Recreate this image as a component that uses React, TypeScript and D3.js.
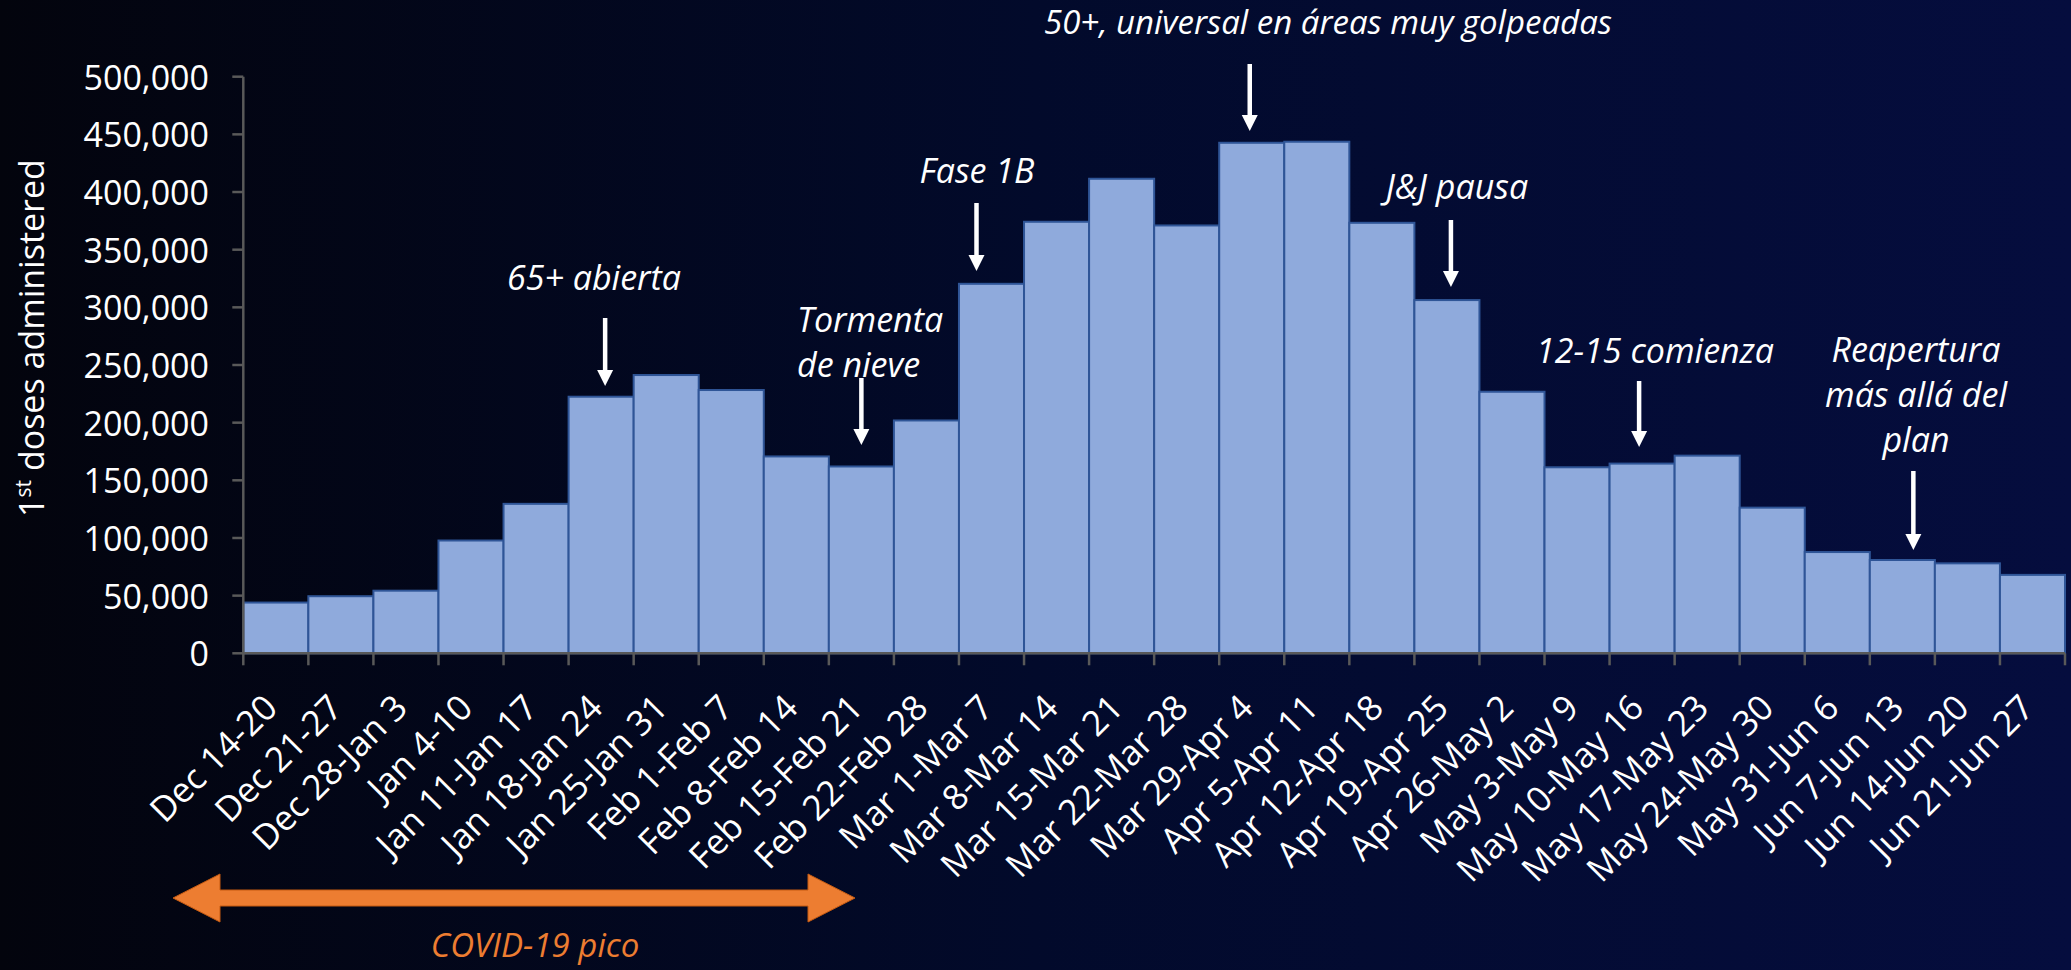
import React from "react";
import * as d3 from "d3";

const weeks: string[] = [
  "Dec 14-20", "Dec 21-27", "Dec 28-Jan 3", "Jan 4-10", "Jan 11-Jan 17", "Jan 18-Jan 24",
  "Jan 25-Jan 31", "Feb 1-Feb 7", "Feb 8-Feb 14", "Feb 15-Feb 21", "Feb 22-Feb 28", "Mar 1-Mar 7",
  "Mar 8-Mar 14", "Mar 15-Mar 21", "Mar 22-Mar 28", "Mar 29-Apr 4", "Apr 5-Apr 11", "Apr 12-Apr 18",
  "Apr 19-Apr 25", "Apr 26-May 2", "May 3-May 9", "May 10-May 16", "May 17-May 23", "May 24-May 30",
  "May 31-Jun 6", "Jun 7-Jun 13", "Jun 14-Jun 20", "Jun 21-Jun 27",
];

const firstDoses: number[] = [
  44000, 49500, 54300, 97800, 129600, 222500,
  241300, 228300, 170700, 162000, 201900, 320400,
  374200, 411500, 371000, 442700, 443600, 373300,
  306300, 226800, 161300, 164500, 171400, 126300,
  87800, 80900, 78000, 68000,
];

const yTicks: number[] = [0, 50000, 100000, 150000, 200000, 250000, 300000, 350000, 400000, 450000, 500000];

const annotationTexts: string[][] = [
  ["65+ abierta"],
  ["Tormenta", "de nieve"],
  ["Fase 1B"],
  ["50+, universal en áreas muy golpeadas"],
  ["J&J pausa"],
  ["12-15 comienza"],
  ["Reapertura", "más allá del", "plan"],
];
const annotationWeeks: string[] = [
  "Jan 18-Jan 24", "Feb 15-Feb 21", "Mar 1-Mar 7", "Mar 29-Apr 4", "Apr 19-Apr 25", "May 10-May 16", "Jun 7-Jun 13",
];

const peakLabel = "COVID-19 pico";
const yTitle = ["1", "st", " doses administered"];

// layout (not data)
const W = 2071;
const H = 970;
const plotLeft = 243.3;
const plotRight = 2065;
const plotTop = 76.7;
const plotBottom = 653.3;

const annLayout = [
  { dx: 4, y1: 318, y2: 386, tx: 594, ty: 290, anchor: "middle" },
  { dx: 0, y1: 378, y2: 445, tx: 797, ty: 332, anchor: "start" },
  { dx: -15, y1: 203, y2: 271, tx: 977, ty: 183, anchor: "middle" },
  { dx: -2, y1: 64, y2: 131, tx: 1328, ty: 34, anchor: "middle" },
  { dx: 4, y1: 220, y2: 287, tx: 1457, ty: 199, anchor: "middle" },
  { dx: -3, y1: 381, y2: 447, tx: 1655, ty: 363, anchor: "middle" },
  { dx: 11, y1: 471, y2: 550, tx: 1916, ty: 362, anchor: "middle" },
];

const FONT = "'Open Sans', 'Noto Sans', sans-serif";

export default function App() {
  const x = d3.scaleBand<string>().domain(weeks).range([plotLeft, plotRight]).padding(0);
  const y = d3.scaleLinear().domain([0, 500000]).range([plotBottom, plotTop]);
  const fmt = d3.format(",");
  const axisColor = "#595959";

  const arrowX1 = 173;
  const arrowX2 = 855;
  const arrowY = 898;
  const shaftH = 8;
  const headL = 47;
  const headH = 24;
  const orangePath = [
    [arrowX1, arrowY],
    [arrowX1 + headL, arrowY - headH],
    [arrowX1 + headL, arrowY - shaftH],
    [arrowX2 - headL, arrowY - shaftH],
    [arrowX2 - headL, arrowY - headH],
    [arrowX2, arrowY],
    [arrowX2 - headL, arrowY + headH],
    [arrowX2 - headL, arrowY + shaftH],
    [arrowX1 + headL, arrowY + shaftH],
    [arrowX1 + headL, arrowY + headH],
  ];
  const orangeD = d3.line()(orangePath as [number, number][]) + "Z";

  return (
    <svg
      width={W}
      height={H}
      style={{ position: "fixed", left: 0, top: 0, display: "block" }}
      fontFamily={FONT}
    >
      <defs>
        <linearGradient id="bg" x1="0" y1="0" x2="1" y2="0">
          <stop offset="0" stopColor="#03040d" />
          <stop offset="0.5" stopColor="#020a2b" />
          <stop offset="1" stopColor="#050d3e" />
        </linearGradient>
      </defs>
      <rect x={0} y={0} width={W} height={H} fill="url(#bg)" />

      {/* bars */}
      {weeks.map((w, i) => (
        <rect
          key={w}
          x={x(w)!}
          y={y(firstDoses[i])}
          width={x.bandwidth()}
          height={y(0) - y(firstDoses[i])}
          fill="#8faadc"
          stroke="#2f5597"
          strokeWidth={2}
        />
      ))}

      {/* y axis */}
      <line x1={plotLeft} x2={plotLeft} y1={plotTop} y2={plotBottom} stroke={axisColor} strokeWidth={2.5} />
      {yTicks.map((t) => (
        <g key={t}>
          <line x1={plotLeft - 11} x2={plotLeft} y1={y(t)} y2={y(t)} stroke={axisColor} strokeWidth={2.5} />
          <text
            x={209}
            y={y(t)}
            textAnchor="end"
            dominantBaseline="central"
            fill="#ffffff"
            fontSize={34}
          >
            {fmt(t)}
          </text>
        </g>
      ))}

      {/* x axis */}
      <line x1={plotLeft} x2={plotRight} y1={plotBottom} y2={plotBottom} stroke={axisColor} strokeWidth={2.5} />
      {[...weeks.map((w) => x(w)!), plotRight].map((px, i) => (
        <line key={i} x1={px} x2={px} y1={plotBottom} y2={plotBottom + 12} stroke={axisColor} strokeWidth={2.5} />
      ))}
      {weeks.map((w) => {
        const cx = x(w)! + x.bandwidth() / 2 - 6;
        const cy = plotBottom + 47;
        return (
          <text
            key={w}
            x={cx}
            y={cy}
            transform={`rotate(-45 ${cx} ${cy})`}
            textAnchor="end"
            dominantBaseline="central"
            fill="#ffffff"
            fontSize={35}
          >
            {w}
          </text>
        );
      })}

      {/* y title */}
      <text
        transform={`translate(44, 338) rotate(-90)`}
        textAnchor="middle"
        fill="#ffffff"
        fontSize={34}
      >
        <tspan>{yTitle[0]}</tspan>
        <tspan fontSize={21} dy={-13}>{yTitle[1]}</tspan>
        <tspan dy={13}>{yTitle[2]}</tspan>
      </text>

      {/* annotations */}
      {annotationTexts.map((lines, i) => {
        const L = annLayout[i];
        const ax = x(annotationWeeks[i])! + x.bandwidth() / 2 + L.dx;
        return (
          <g key={i}>
            {lines.map((ln, j) => (
              <text
                key={j}
                x={L.tx}
                y={L.ty + j * 45}
                textAnchor={L.anchor as any}
                fill="#ffffff"
                fontStyle="italic"
                fontSize={i === 3 ? 33 : 34}
              >
                {ln}
              </text>
            ))}
            <line x1={ax} x2={ax} y1={L.y1} y2={L.y2 - 14} stroke="#ffffff" strokeWidth={4.5} />
            <path
              d={`M${ax - 8},${L.y2 - 16} L${ax + 8},${L.y2 - 16} L${ax},${L.y2} Z`}
              fill="#ffffff"
            />
          </g>
        );
      })}

      {/* COVID peak arrow */}
      <path d={orangeD} fill="#ed7d31" stroke="#c55a11" strokeWidth={1} />
      <text
        x={535}
        y={957}
        textAnchor="middle"
        fill="#ed7d31"
        fontStyle="italic"
        fontSize={33}
      >
        {peakLabel}
      </text>
    </svg>
  );
}
